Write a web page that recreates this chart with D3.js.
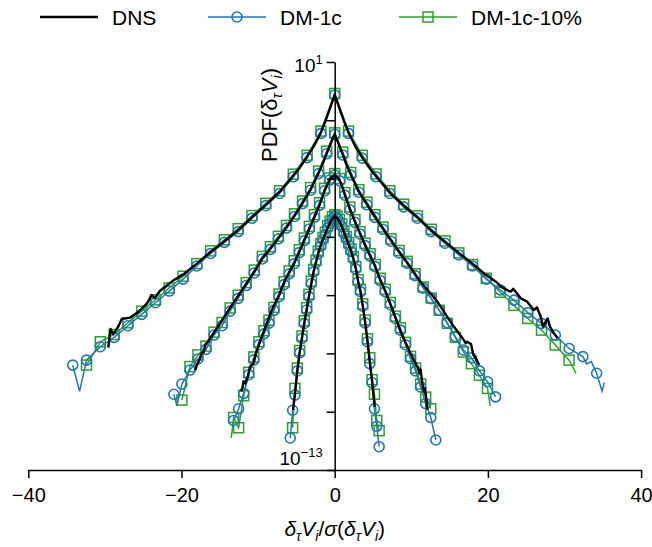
<!DOCTYPE html>
<html>
<head>
<meta charset="utf-8">
<script src="https://cdn.jsdelivr.net/npm/d3@7"></script>
<style>
  html, body { margin: 0; padding: 0; background: #fff; }
  svg { display: block; font-family: "Liberation Sans", Arial, sans-serif; }
</style>
</head>
<body>
<svg id="chart" width="652" height="547"></svg>
<script>
// ---- axis ticks ----
const ticksX = [-40, -20, 0, 20, 40];
const decadeTicks = [1, -1, -3, -5, -7, -9, -11, -13];   // log10 of the PDF tick values
const labelledDecades = [1, -13];

// ---- values are log10(PDF), four increments stacked top (A) to bottom (D) ----

// A
const binsA = [-34.2,-32.4,-30.6,-28.8,-27,-25.2,-23.4,-21.6,-19.8,-18,-16.2,-14.4,-12.6,-10.8,-9,-7.2,-5.4,-3.6,-1.8,0,
  1.8,3.6,5.4,7.2,9,10.8,12.6,14.4,16.2,18,19.8,21.6,23.4,25.2,27,28.8,30.6,32.4,34.2];
const dm1cA = [-9.40,-9.23,-8.77,-8.45,-8.05,-7.66,-7.26,-6.86,-6.45,-6.00,-5.57,-5.19,-4.82,-4.36,-3.93,-3.51,-2.94,-2.28,-1.45,-0.13,
  -1.45,-2.30,-2.94,-3.51,-3.97,-4.36,-4.82,-5.22,-5.62,-6.00,-6.45,-6.82,-7.17,-7.60,-7.97,-8.37,-8.83,-9.11,-9.68];
const dm1cAUnmarked = [[-33.3,-10.3],[32.9,-9.36],[33.5,-9.28],[34.9,-10.3],[35.2,-10.0]];
const binsA10 = [-32.4,-30.6,-28.8,-27,-25.2,-23.4,-21.6,-19.8,-18,-16.2,-14.4,-12.6,-10.8,-9,-7.2,-5.4,-3.6,-1.8,0,
  1.8,3.6,5.4,7.2,9,10.8,12.6,14.4,16.2,18,19.8,21.6,23.4,25.2,27,28.8,30.6];
const dm10A = [-9.40,-8.60,-8.35,-7.95,-7.55,-7.16,-6.75,-6.35,-5.92,-5.48,-5.10,-4.72,-4.27,-3.85,-3.42,-2.85,-2.20,-1.37,-0.08,
  -1.37,-2.20,-2.84,-3.42,-3.88,-4.28,-4.74,-5.14,-5.55,-5.95,-6.42,-6.90,-7.35,-7.80,-8.20,-8.71,-9.23];
const dm10AUnmarked = [[31.5,-9.68]];
const dnsA = [[-29.55,-8.8],[-29.25,-8.16],[-28.9,-8.34],[-28.3,-8.1],[-27.8,-7.82],[-26.7,-7.77],[-25.6,-7.57],[-24.5,-7.28],
  [-23.9,-7.0],[-23.5,-7.1],[-22.8,-6.85],[-21.1,-6.5],[-19.8,-6.3],[-18,-5.92],[-16.2,-5.52],[-14.4,-5.15],[-12.6,-4.77],
  [-10.8,-4.33],[-9,-3.9],[-7.2,-3.46],[-5.4,-2.9],[-4.5,-2.6],[-3.6,-2.25],[-2.7,-1.88],[-1.8,-1.42],[-1.2,-1.02],
  [-0.7,-0.65],[-0.3,-0.35],[0,-0.13],[0.3,-0.35],[0.7,-0.65],[1.2,-1.02],[1.8,-1.42],[2.7,-1.9],[3.6,-2.27],[4.5,-2.62],
  [5.4,-2.92],[7.2,-3.48],[9,-3.93],[10.8,-4.33],[12.6,-4.78],[14.4,-5.17],[16.2,-5.55],[18,-5.92],[19.8,-6.32],
  [21.1,-6.55],[21.7,-6.71],[22.7,-6.85],[23.0,-6.88],[23.3,-6.78],[24.3,-7.11],[25.1,-7.22],[26.0,-7.51],[26.4,-7.42],
  [26.9,-7.74],[27.2,-8.08],[27.8,-7.8],[28.1,-8.08],[28.6,-8.3],[29.1,-8.48]];

// B
const binsB = [-21,-19.95,-18.9,-17.85,-16.8,-15.75,-14.7,-13.65,-12.6,-11.55,-10.5,-9.45,-8.4,-7.35,-6.3,-5.25,-4.2,-3.15,-2.1,-1.05,0,
  1.05,2.1,3.15,4.2,5.25,6.3,7.35,8.4,9.45,10.5,11.55,12.6,13.65,14.7,15.75,16.8,17.85,18.9,19.95,21];
const dm1cB = [-10.40,-10.05,-9.57,-9.19,-8.86,-8.37,-8.05,-7.55,-7.11,-6.67,-6.24,-5.76,-5.43,-5.07,-4.70,-4.30,-3.86,-3.40,-2.83,-2.15,-1.48,
  -2.19,-2.88,-3.47,-3.90,-4.33,-4.74,-5.15,-5.55,-5.90,-6.33,-6.76,-7.12,-7.52,-7.95,-8.42,-8.88,-9.15,-9.60,-9.97,-10.49];
const dm1cBUnmarked = [[-20.6,-10.8]];
const binsB10 = [-19.95,-18.9,-17.85,-16.8,-15.75,-14.7,-13.65,-12.6,-11.55,-10.5,-9.45,-8.4,-7.35,-6.3,-5.25,-4.2,-3.15,-2.1,-1.05,0,
  1.05,2.1,3.15,4.2,5.25,6.3,7.35,8.4,9.45,10.5,11.55,12.6,13.65,14.7,15.75,16.8,17.85,18.9,19.95];
const dm10B = [-10.60,-9.45,-9.05,-8.75,-8.27,-7.94,-7.44,-7.00,-6.57,-6.14,-5.67,-5.34,-4.98,-4.61,-4.21,-3.77,-3.31,-2.74,-2.06,-1.43,
  -2.09,-2.79,-3.38,-3.81,-4.24,-4.66,-5.07,-5.47,-5.84,-6.27,-6.72,-7.10,-7.52,-7.97,-8.45,-8.95,-9.35,-9.75,-10.20];
const dm10BUnmarked = [[20.3,-10.8]];
const dnsB = [[-18.2,-9.57],[-18.0,-9.4],[-17.6,-9.2],[-17.4,-9.0],[-17.1,-8.95],[-16.9,-8.7],[-16.7,-8.65],[-15.4,-8.14],
  [-13.7,-7.45],[-11.5,-6.6],[-10.5,-6.2],[-9.45,-5.74],[-8.4,-5.41],[-7.35,-5.05],[-6.3,-4.68],[-5.25,-4.28],[-4.2,-3.84],
  [-3.15,-3.38],[-2.1,-2.8],[-1.5,-2.45],[-1.05,-2.14],[-0.6,-1.85],[-0.25,-1.62],[0,-1.48],[0.25,-1.63],[0.6,-1.87],
  [1.05,-2.17],[1.5,-2.5],[2.1,-2.86],[3.15,-3.45],[4.2,-3.88],[5.25,-4.31],[6.3,-4.72],[7.35,-5.12],[8.6,-5.58],
  [9.45,-5.88],[11.2,-6.54],[13.4,-7.22],[15.1,-7.91],[16.2,-8.31],[16.7,-8.48],[17.1,-8.65],[17.3,-8.6],[17.8,-8.68],
  [18.1,-9.05],[18.5,-9.2],[18.85,-9.4]];

// C
const binsC = [-13.2,-12.54,-11.88,-11.22,-10.56,-9.9,-9.24,-8.58,-7.92,-7.26,-6.6,-5.94,-5.28,-4.62,-3.96,-3.3,-2.64,-1.98,-1.32,-0.66,0,
  0.66,1.32,1.98,2.64,3.3,3.96,4.62,5.28,5.94,6.6,7.26,7.92,8.58,9.24,9.9,10.56,11.22,11.88,12.54,13.2];
const dm1cC = [-11.30,-10.90,-10.37,-9.73,-9.22,-8.70,-8.33,-7.96,-7.52,-7.05,-6.64,-6.27,-5.92,-5.54,-5.13,-4.73,-4.33,-3.92,-3.42,-3.05,-2.88,
  -3.08,-3.57,-4.07,-4.50,-4.90,-5.30,-5.66,-6.02,-6.50,-6.88,-7.33,-7.80,-8.20,-8.70,-9.18,-9.60,-10.15,-10.72,-11.20,-11.97];
const dm1cCUnmarked = [];
const binsC10 = [-13.2,-12.54,-11.88,-11.22,-10.56,-9.9,-9.24,-8.58,-7.92,-7.26,-6.6,-5.94,-5.28,-4.62,-3.96,-3.3,-2.64,-1.98,-1.32,-0.66,0,
  0.66,1.32,1.98,2.64,3.3,3.96,4.62,5.28,5.94,6.6,7.26,7.92,8.58,9.24,9.9,10.56,11.22,11.88,12.54];
const dm10C = [-11.20,-11.55,-10.45,-9.65,-9.12,-8.60,-8.22,-7.86,-7.42,-6.96,-6.54,-6.17,-5.82,-5.44,-5.04,-4.64,-4.24,-3.83,-3.33,-2.98,-2.83,
  -3.00,-3.48,-3.98,-4.41,-4.82,-5.22,-5.58,-5.95,-6.42,-6.80,-7.25,-7.72,-8.12,-8.62,-9.10,-9.50,-10.05,-10.50,-10.90];
const dm10CUnmarked = [[-13.5,-11.9]];
const dnsC = [[-12.2,-10.31],[-12.06,-10.2],[-11.9,-9.95],[-11.7,-10.03],[-11.36,-9.8],[-11.06,-9.46],[-10.6,-9.34],[-10.2,-8.94],
  [-9.53,-8.43],[-8.22,-7.51],[-7.26,-7.0],[-6.49,-6.48],[-5.28,-5.9],[-3.96,-5.12],[-2.64,-4.32],[-1.98,-3.9],[-1.32,-3.42],
  [-0.8,-3.12],[-0.4,-2.96],[0,-2.88],[0.4,-2.97],[0.8,-3.14],[1.32,-3.55],[1.98,-4.05],[2.64,-4.48],[3.3,-4.88],[3.96,-5.28],
  [4.62,-5.65],[5.28,-6.02],[5.94,-6.48],[6.6,-6.86],[7.26,-7.3],[7.92,-7.76],[8.6,-8.25],[9.9,-9.0],[10.8,-9.46],[11.1,-9.68],
  [11.2,-9.55],[11.45,-10.03],[11.66,-10.31],[11.8,-10.2],[12.1,-10.94]];

// D
const binsD = [-5.8,-5.49,-5.19,-4.88,-4.58,-4.27,-3.97,-3.66,-3.36,-3.05,-2.75,-2.44,-2.14,-1.83,-1.53,-1.22,-0.92,-0.61,-0.3,0,
  0.3,0.61,0.92,1.22,1.53,1.83,2.14,2.44,2.75,3.05,3.36,3.66,3.97,4.27,4.58,4.88,5.19,5.49,5.8];
const dm1cD = [-11.90,-10.95,-10.43,-9.60,-8.98,-8.48,-7.97,-7.51,-7.05,-6.60,-6.20,-5.88,-5.57,-5.32,-5.10,-4.92,-4.70,-4.54,-4.38,-4.29,
  -4.36,-4.48,-4.64,-4.88,-5.07,-5.28,-5.50,-5.76,-6.10,-6.55,-6.88,-7.38,-7.95,-8.60,-9.35,-10.00,-10.90,-11.50,-12.20];
const dm1cDUnmarked = [];
const binsD10 = [-5.49,-5.19,-4.88,-4.58,-4.27,-3.97,-3.66,-3.36,-3.05,-2.75,-2.44,-2.14,-1.83,-1.53,-1.22,-0.92,-0.61,-0.3,0,
  0.3,0.61,0.92,1.22,1.53,1.83,2.14,2.44,2.75,3.05,3.36,3.66,3.97,4.27,4.58,4.88,5.19,5.49,5.8];
const dm10D = [-11.55,-10.20,-9.50,-8.90,-8.40,-7.88,-7.43,-6.97,-6.52,-6.12,-5.80,-5.49,-5.24,-5.02,-4.84,-4.62,-4.46,-4.31,-4.24,
  -4.29,-4.40,-4.56,-4.80,-4.99,-5.20,-5.42,-5.68,-6.02,-6.47,-6.80,-7.30,-7.85,-8.50,-9.15,-9.90,-10.40,-11.30,-11.65];
const dm10DUnmarked = [];
const dnsD = [[-5.45,-10.94],[-5.19,-10.4],[-4.88,-9.6],[-4.58,-8.98],[-4.27,-8.47],[-3.97,-7.96],[-3.66,-7.5],[-3.36,-7.04],
  [-3.05,-6.6],[-2.75,-6.2],[-2.44,-5.87],[-2.14,-5.56],[-1.83,-5.3],[-1.53,-5.08],[-1.22,-4.9],[-0.92,-4.68],[-0.61,-4.52],
  [-0.3,-4.37],[0,-4.29],[0.3,-4.35],[0.61,-4.47],[0.92,-4.63],[1.22,-4.86],[1.53,-5.06],[1.83,-5.27],[2.14,-5.49],
  [2.44,-5.75],[2.75,-6.08],[3.05,-6.52],[3.36,-6.87],[3.66,-7.36],[3.97,-7.92],[4.27,-8.55],[4.58,-9.3],[4.88,-9.95],
  [5.05,-10.4],[5.22,-10.83]];

const seriesNames = ["DNS", "DM-1c", "DM-1c-10%"];
const colors = { dns: "#000000", dm1c: "#1f77b4", dm10: "#2ca02c" };

// ---- assemble ----
const curves = [
  { dns: dnsA, b1: binsA, v1: dm1cA, u1: dm1cAUnmarked, b10: binsA10, v10: dm10A, u10: dm10AUnmarked },
  { dns: dnsB, b1: binsB, v1: dm1cB, u1: dm1cBUnmarked, b10: binsB10, v10: dm10B, u10: dm10BUnmarked },
  { dns: dnsC, b1: binsC, v1: dm1cC, u1: dm1cCUnmarked, b10: binsC10, v10: dm10C, u10: dm10CUnmarked },
  { dns: dnsD, b1: binsD, v1: dm1cD, u1: dm1cDUnmarked, b10: binsD10, v10: dm10D, u10: dm10DUnmarked }
];

const svg = d3.select("#chart");
const x = d3.scaleLinear().domain([-40, 40]).range([28.3, 641.1]);
const y = d3.scaleLog().domain([1e-13, 1e1]).range([470, 62]);
const pdf = e => Math.pow(10, e);

const line = d3.line().x(d => x(d[0])).y(d => y(pdf(d[1])));
const marked = (bins, vals) => bins.map((b, i) => [b, vals[i]]);
const withUnmarked = (pts, extra) => pts.concat(extra).sort((a, b) => a[0] - b[0]);

const SQ = 10, R = 5;
const plot = svg.append("g");

// DM-1c-10%: green line + open squares
curves.forEach(c => {
  const pts = marked(c.b10, c.v10);
  plot.append("path").attr("d", line(withUnmarked(pts, c.u10)))
    .attr("fill", "none").attr("stroke", colors.dm10).attr("stroke-width", 1.5);
  plot.append("g").selectAll("rect").data(pts).join("rect")
    .attr("x", d => x(d[0]) - SQ / 2).attr("y", d => y(pdf(d[1])) - SQ / 2)
    .attr("width", SQ).attr("height", SQ)
    .attr("fill", "none").attr("stroke", colors.dm10).attr("stroke-width", 1.5);
});

// DM-1c: blue line + open circles
curves.forEach(c => {
  const pts = marked(c.b1, c.v1);
  plot.append("path").attr("d", line(withUnmarked(pts, c.u1)))
    .attr("fill", "none").attr("stroke", colors.dm1c).attr("stroke-width", 1.5);
  plot.append("g").selectAll("circle").data(pts).join("circle")
    .attr("cx", d => x(d[0])).attr("cy", d => y(pdf(d[1]))).attr("r", R)
    .attr("fill", "none").attr("stroke", colors.dm1c).attr("stroke-width", 1.6);
});

// DNS: black line on top
curves.forEach(c => {
  plot.append("path").attr("d", line(c.dns))
    .attr("fill", "none").attr("stroke", colors.dns).attr("stroke-width", 2.4)
    .attr("stroke-linejoin", "round");
});

// ---- axes ----
const gx = svg.append("g").attr("transform", `translate(0,${y(1e-13)})`)
  .call(d3.axisBottom(x).tickValues(ticksX).tickSize(8).tickSizeOuter(0).tickPadding(10)
    .tickFormat(d => d < 0 ? "\u2212" + (-d) : String(d)));
const gy = svg.append("g").attr("transform", `translate(${x(0)},0)`)
  .call(d3.axisLeft(y).tickValues(decadeTicks.map(pdf)).tickSize(8).tickSizeOuter(0).tickFormat(""));
[gx, gy].forEach(g => {
  g.select(".domain").attr("stroke", "#000").attr("stroke-width", 1.5);
  g.selectAll(".tick line").attr("stroke", "#000").attr("stroke-width", 1.5);
  g.selectAll(".tick text").attr("fill", "#000").attr("font-size", 20)
    .attr("font-family", "'Liberation Sans', Arial, sans-serif");
});

// decade labels 10^1 and 10^-13
labelledDecades.forEach(e => {
  const yy = e === 1 ? y(pdf(e)) + 10 : y(pdf(e)) - 5;
  const t = svg.append("text").attr("x", x(0) - 12).attr("y", yy)
    .attr("text-anchor", "end").attr("font-size", 19).attr("fill", "#000");
  t.append("tspan").text("10");
  t.append("tspan").attr("font-size", 13).attr("dy", -8)
    .text(e < 0 ? "\u2212" + (-e) : String(e));
});

// axis titles
function symbolLabel(t, parts, subSize) {
  let shift = 0;
  parts.forEach(p => {
    const s = t.append("tspan").text(p.t);
    if (p.it) s.attr("font-style", "italic");
    const target = p.sub ? 5 : 0;
    if (target !== shift) { s.attr("dy", target - shift); shift = target; }
    if (p.sub) s.attr("font-size", subSize);
  });
}
const yTitle = svg.append("text")
  .attr("transform", "translate(277,115) rotate(-90)")
  .attr("text-anchor", "middle").attr("font-size", 22).attr("fill", "#000");
symbolLabel(yTitle, [
  { t: "PDF(" }, { t: "\u03b4" }, { t: "\u03c4", it: true, sub: true },
  { t: "V", it: true }, { t: "i", it: true, sub: true }, { t: ")" }
], 14);
const xTitle = svg.append("text")
  .attr("x", x(0)).attr("y", 536)
  .attr("text-anchor", "middle").attr("font-size", 21).attr("fill", "#000");
symbolLabel(xTitle, [
  { t: "\u03b4", it: true }, { t: "\u03c4", it: true, sub: true }, { t: "V", it: true }, { t: "i", it: true, sub: true },
  { t: "/" }, { t: "\u03c3", it: true }, { t: "(" }, { t: "\u03b4", it: true }, { t: "\u03c4", it: true, sub: true },
  { t: "V", it: true }, { t: "i", it: true, sub: true }, { t: ")" }
], 14);

// ---- legend ----
const legendItems = [
  { name: seriesNames[0], color: colors.dns, x0: 40, mark: null, w: 2.4 },
  { name: seriesNames[1], color: colors.dm1c, x0: 208, mark: "circle", w: 1.5 },
  { name: seriesNames[2], color: colors.dm10, x0: 399, mark: "square", w: 1.5 }
];
const legend = svg.append("g").attr("transform", "translate(0,17)");
legendItems.forEach(it => {
  const g = legend.append("g").attr("transform", `translate(${it.x0},0)`);
  g.append("line").attr("x1", 0).attr("x2", 58).attr("stroke", it.color).attr("stroke-width", it.w);
  if (it.mark === "circle") g.append("circle").attr("cx", 29).attr("r", R)
    .attr("fill", "none").attr("stroke", it.color).attr("stroke-width", 1.6);
  if (it.mark === "square") g.append("rect").attr("x", 29 - SQ / 2).attr("y", -SQ / 2).attr("width", SQ).attr("height", SQ)
    .attr("fill", "none").attr("stroke", it.color).attr("stroke-width", 1.5);
  g.append("text").attr("x", 72).attr("y", 7.5).attr("font-size", 21).attr("fill", "#000").text(it.name);
});
</script>
</body>
</html>
